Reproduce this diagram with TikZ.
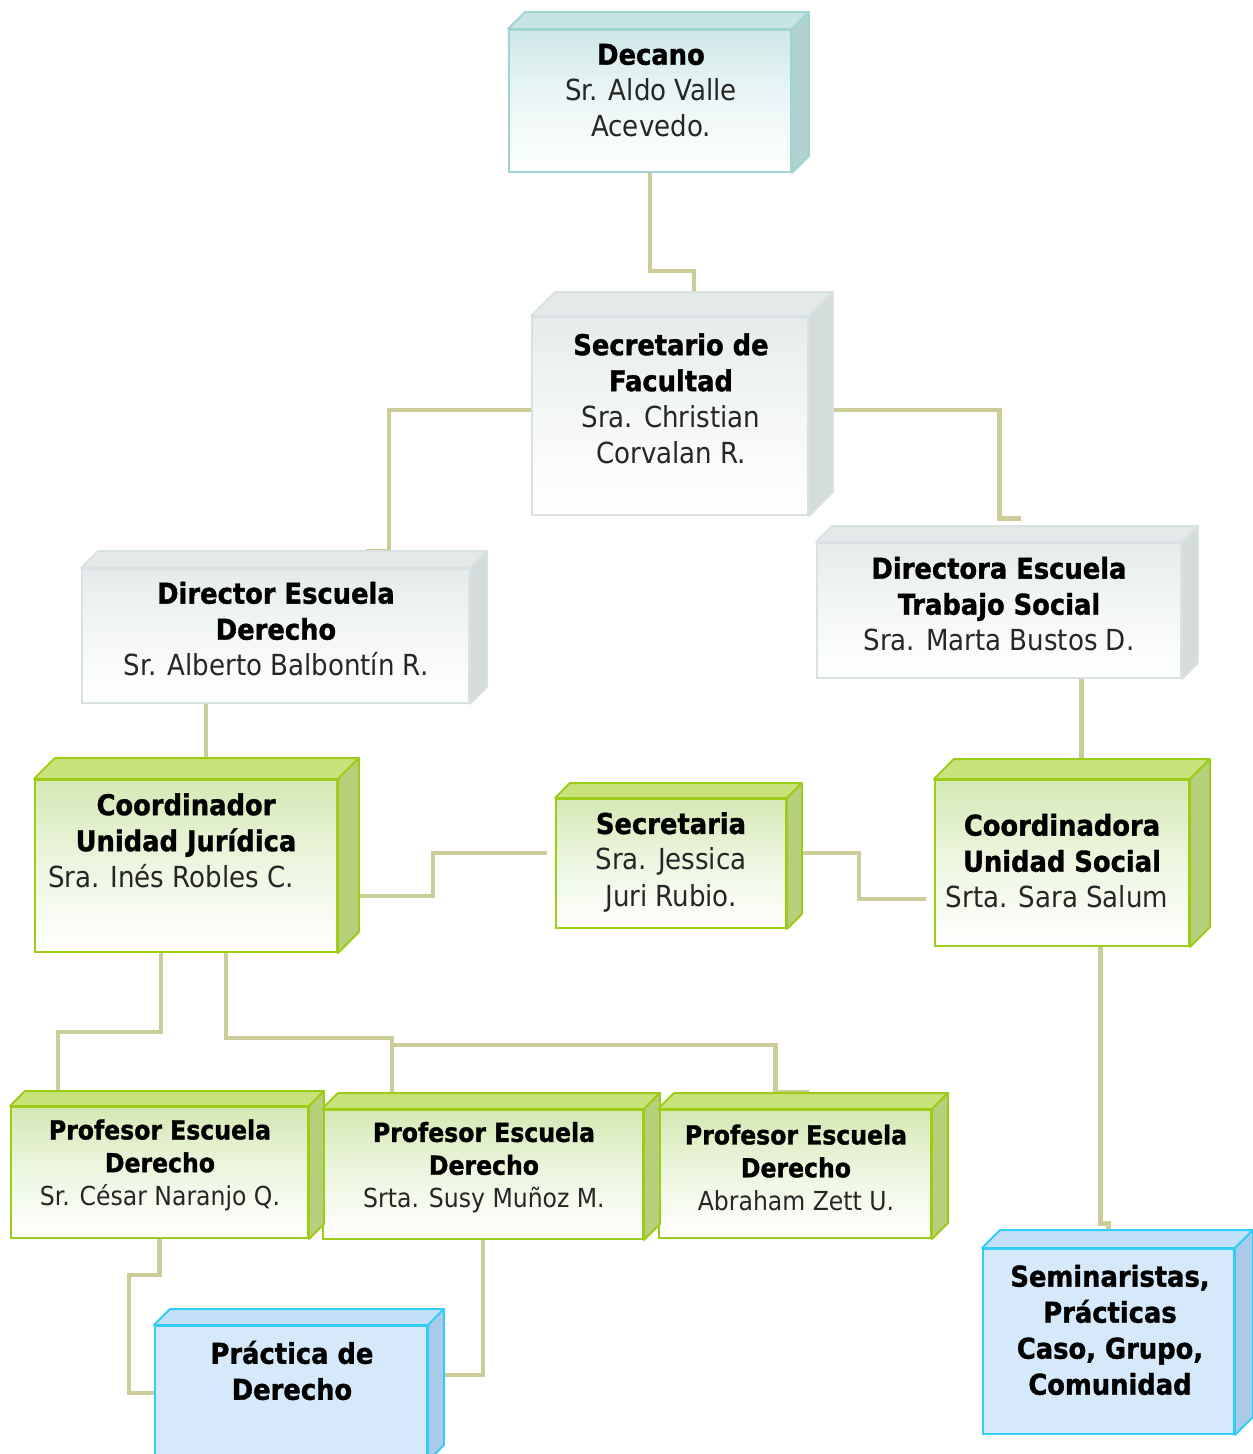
\documentclass[tikz,border=0pt]{standalone}
\usepackage{fontspec}
\setmainfont{DejaVu Sans Condensed}[BoldFont={DejaVu Sans Condensed Bold}, BoldFeatures={FakeBold=1.2}]
\usetikzlibrary{calc,backgrounds}

\definecolor{linkcol}{HTML}{CCCC99}
\definecolor{tlline}{HTML}{9FD4D2}
\definecolor{tlfront}{HTML}{CFE8E8}
\definecolor{tltop}{HTML}{C6E4E3}
\definecolor{tlside}{HTML}{B0D2D1}
\definecolor{gyline}{HTML}{D9E2E2}
\definecolor{gyfront}{HTML}{E5EBEB}
\definecolor{gytop}{HTML}{E4E9E9}
\definecolor{gyside}{HTML}{D4DCDC}
\definecolor{gnline}{HTML}{9CCC18}
\definecolor{gnfront}{HTML}{D4E9B4}
\definecolor{gntop}{HTML}{C8E27C}
\definecolor{gnside}{HTML}{B6CF7A}
\definecolor{blline}{HTML}{33CCF8}
\definecolor{blfront}{HTML}{D5E9FB}
\definecolor{bltop}{HTML}{C3E1FB}
\definecolor{blside}{HTML}{AACBE8}

\newcommand{\hd}[1]{{\fontsize{16.3}{20.5}\selectfont\bfseries\color{black}#1}}
\newcommand{\hds}[1]{{\fontsize{14.9}{18.7}\selectfont\bfseries\color{black}#1}}

\tikzset{
  boxsize/.style 2 args={minimum width=#1*0.02cm, minimum height=#2*0.02cm},
  box/.style={draw, line width=1.1pt, inner sep=0pt},
  tealish/.style={box, draw=tlline, top color=tlfront, bottom color=white, middle color=tlfront!40},
  greyish/.style={box, draw=gyline, top color=gyfront, bottom color=white, middle color=gyfront!40},
  greenish/.style={box, draw=gnline, top color=gnfront, bottom color=white, middle color=gnfront!40},
  bluish/.style={box, draw=blline, fill=blfront},
  txt/.style={inner sep=0pt, align=center, text=black!85, font=\fontsize{16.5}{20.5}\selectfont},
  txtsmall/.style={txt, font=\fontsize{14.9}{18.7}\selectfont},
  link/.style={draw=linkcol, line width=2.8pt}
}

\begin{document}
\begin{tikzpicture}[x=0.02cm, y=-0.02cm]
  \useasboundingbox (0,0) rectangle (1252,1454);

  % boxes (front faces)
  \node[tealish,  boxsize={282}{142}] (dec)  at (650,101)    {};
  \node[greyish,  boxsize={276}{198}] (sec)  at (670,416)    {};
  \node[greyish,  boxsize={387}{134}] (dird) at (275.5,636)  {};
  \node[greyish,  boxsize={364}{135}] (dirt) at (999,610.5)  {};
  \node[greenish, boxsize={302}{172}] (cuj)  at (186,866)    {};
  \node[greenish, boxsize={230}{129}] (sria) at (671,863.5)  {};
  \node[greenish, boxsize={254}{166}] (cus)  at (1062,863)   {};
  \node[greenish, boxsize={297}{131}] (p1)   at (159.5,1172.5) {};
  \node[greenish, boxsize={320}{129}] (p2)   at (483,1174.5) {};
  \node[greenish, boxsize={272}{128}] (p3)   at (795,1174)   {};
  \node[bluish,   boxsize={272}{134}] (prac) at (291,1393)   {};
  \node[bluish,   boxsize={251}{185}] (sem)  at (1108.5,1341.5) {};

  % top and side faces
  \foreach \n/\d/\ct/\cs/\cl in {dec/17/tltop/tlside/tlline, sec/24/gytop/gyside/gyline,
      dird/17/gytop/gyside/gyline, dirt/16/gytop/gyside/gyline, cuj/21/gntop/gnside/gnline,
      sria/15/gntop/gnside/gnline, cus/20/gntop/gnside/gnline, p1/15/gntop/gnside/gnline,
      p2/16/gntop/gnside/gnline, p3/16/gntop/gnside/gnline, prac/16/bltop/blside/blline,
      sem/18/bltop/blside/blline}{
    \filldraw[fill=\ct, draw=\cl, line width=1.1pt, line join=round]
      (\n.north west) -- ++(\d,-\d) -- ($(\n.north east)+(\d,-\d)$) -- (\n.north east) -- cycle;
    \filldraw[fill=\cs, draw=\cl, line width=1.1pt, line join=round]
      (\n.north east) -- ++(\d,-\d) -- ($(\n.south east)+(\d,-\d)$) -- (\n.south east) -- cycle;
  }

  % texts
  \node[txt] (dec-t)  at (651,90.5)  {\hd{Decano}\\Sr. Aldo Valle\\Acevedo.};
  \node[txt] (sec-t)  at (671,398.5) {\hd{Secretario de}\\\hd{Facultad}\\Sra. Christian\\Corvalan R.};
  \node[txt] (dird-t) at (276,629)   {\hd{Director Escuela}\\\hd{Derecho}\\Sr. Alberto Balbontín R.};
  \node[txt] (dirt-t) at (999,604)   {\hd{Directora Escuela}\\\hd{Trabajo Social}\\Sra. Marta Bustos D.};
  \node[txt] (cuj-t)  at (186,840.5) {\hd{Coordinador}\\\hd{Unidad Jurídica}\\Sra. Inés Robles C.\hspace*{0.6cm}};
  \node[txt] (sria-t) at (671,862)   {\hd{Secretaria}\\Sra. Jessica\\Juri Rubio.};
  \node[txt] (cus-t)  at (1062,861)  {\hd{Coordinadora}\\\hd{Unidad Social}\\Srta. Sara Salum\hspace*{0.2cm}};
  \node[txtsmall] (p1-t) at (160,1165)   {\hds{Profesor Escuela}\\\hds{Derecho}\\Sr. César Naranjo Q.};
  \node[txtsmall] (p2-t) at (484,1167.5) {\hds{Profesor Escuela}\\\hds{Derecho}\\Srta. Susy Muñoz M.};
  \node[txtsmall] (p3-t) at (796,1167.5) {\hds{Profesor Escuela}\\\hds{Derecho}\\Abraham Zett U.};
  \node[txt] (prac-t) at (292,1370.5) {\hd{Práctica de}\\\hd{Derecho}};
  \node[txt] (sem-t)  at (1110,1330)  {\hd{Seminaristas,}\\\hd{Prácticas}\\\hd{Caso, Grupo,}\\\hd{Comunidad}};

  \coordinate (fork) at (393,1045);

  % connectors
  \begin{scope}[on background layer]
    \draw[link] (dec.south) -- ++(0,98) -| ($(sec.north)+(24,-24)$);
    \draw[link] ($(sec.west)+(0,-6)$) -| ($(dird.north west)+(308,-17)$) -- ++(-23,0);
    \draw[link] ($(sec.east)+(10,-6)$) -| ($(dirt.north west)+(183,-24)$) -- ++(22,0);
    \draw[link] ($(dird.south west)+(125,0)$) -- ($(cuj.north west)+(172,-20)$);
    \draw[link] ($(dirt.south west)+(265,0)$) -- ($(cus.north west)+(147,-20)$);
    \draw[link] ($(cuj.south east)+(21,-57)$) -| (433,853) -- ($(sria.west)+(-8,-10.5)$);
    \draw[link] ($(sria.east)+(16,-10.5)$) -| (859,899) -- ($(cus.west)+(-8,36)$);
    \draw[link] ($(cus.south west)+(166,0)$) |- ($(sem.north)+(0,-25)$) -- (sem.north);
    \draw[link] ($(cuj.south west)+(127,0)$) -- ++(0,79) -| ($(p1.north west)+(48,-16)$);
    \draw[link] ($(cuj.south west)+(192,0)$) -- ++(0,85) -| ($(p2.north west)+(70,-16)$);
    \draw[link] (fork) -| ($(p3.north west)+(117,-17)$) -- ++(34,0);
    \draw[link] (p1.south) -- ++(0,36) -| ($(prac.west)+(-25,0)$) -- (prac.west);
    \draw[link] (p2.south) |- ($(prac.east)+(16,-18)$);
  \end{scope}
\end{tikzpicture}
\end{document}
